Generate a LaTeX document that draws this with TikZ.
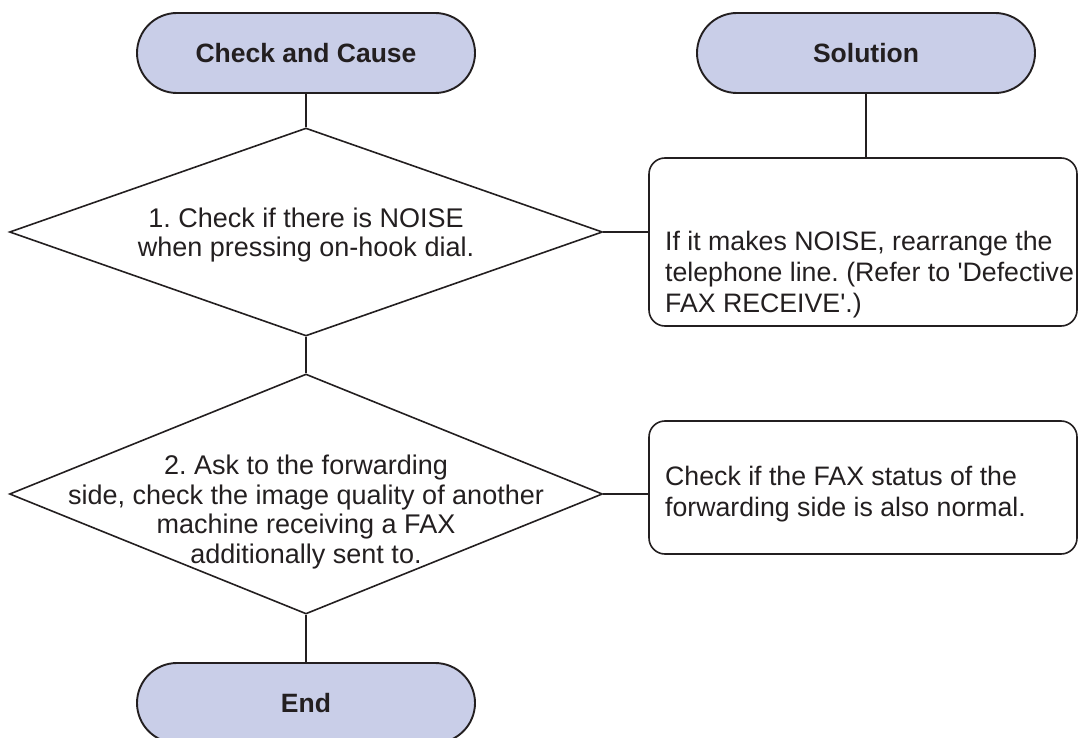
\documentclass[tikz,border=0pt]{standalone}
\usepackage{fontspec}
\setmainfont{Liberation Sans}
\usetikzlibrary{shapes.geometric}
\definecolor{inkgray}{HTML}{231F20}
\definecolor{termfill}{HTML}{C9CEE8}
\frenchspacing

\tikzset{
  terminal/.style={draw=inkgray, fill=termfill, line width=1.9pt,
    rounded corners=40pt, minimum width=338pt, minimum height=80pt,
    inner sep=0pt, text=inkgray,
    font=\bfseries\fontsize{26.5}{31}\selectfont},
  decision/.style={diamond, draw=inkgray, line width=1.6pt,
    minimum width=593pt, inner sep=0pt},
  dtext/.style={align=center, text=inkgray,
    font=\fontsize{27}{29.5}\selectfont},
  answer/.style={draw=inkgray, line width=1.6pt, rounded corners=16pt,
    minimum width=428pt, inner sep=0pt},
  atext/.style={anchor=west, align=left, text=inkgray, inner sep=0pt,
    font=\fontsize{26.7}{31}\selectfont},
  link/.style={draw=inkgray, line width=1.6pt}
}

\begin{document}
\begin{tikzpicture}[x=1pt,y=-1pt]

\useasboundingbox (0,0) rectangle (1079,738);

% Column heads
\node[terminal] (cc) at (306,53) {Check and Cause};
\node[terminal] (sol) at (866,53) {Solution};

% First check
\node[decision, minimum height=208pt] (q1) at (306,232) {};
\node[dtext] (q1text) at (306,235)
  {1. Check if there is NOISE\\when pressing on-hook dial.};

\node[answer, minimum height=168pt] (a1) at (863,242) {};
\node[atext] (a1text) at (665,275)
  {If it makes NOISE, rearrange the\\
   telephone line. (Refer to \textquotesingle Defective\\
   FAX RECEIVE\textquotesingle.)};

% Second check
\node[decision, minimum height=240pt] (q2) at (306,494) {};
\node[dtext] (q2text) at (306,512)
  {2. Ask to the forwarding\\
   side, check the image quality of another\\
   machine receiving a FAX\\
   additionally sent to.};

\node[answer, minimum height=133pt] (a2) at (863,487.5) {};
\node[atext] (a2text) at (665,494)
  {Check if the FAX status of the\\
   forwarding side is also normal.};

% Last terminal, cut by the page edge
\node[terminal] (finish) at (306,703) {End};

% Connectors
\draw[link] (cc) -- (q1);
\draw[link] (sol.south) -- (sol.south |- a1.north);
\draw[link] (q1.east) -- (q1.east -| a1.west);
\draw[link] (q1) -- (q2);
\draw[link] (q2.east) -- (q2.east -| a2.west);
\draw[link] (q2) -- (finish);

\end{tikzpicture}
\end{document}
